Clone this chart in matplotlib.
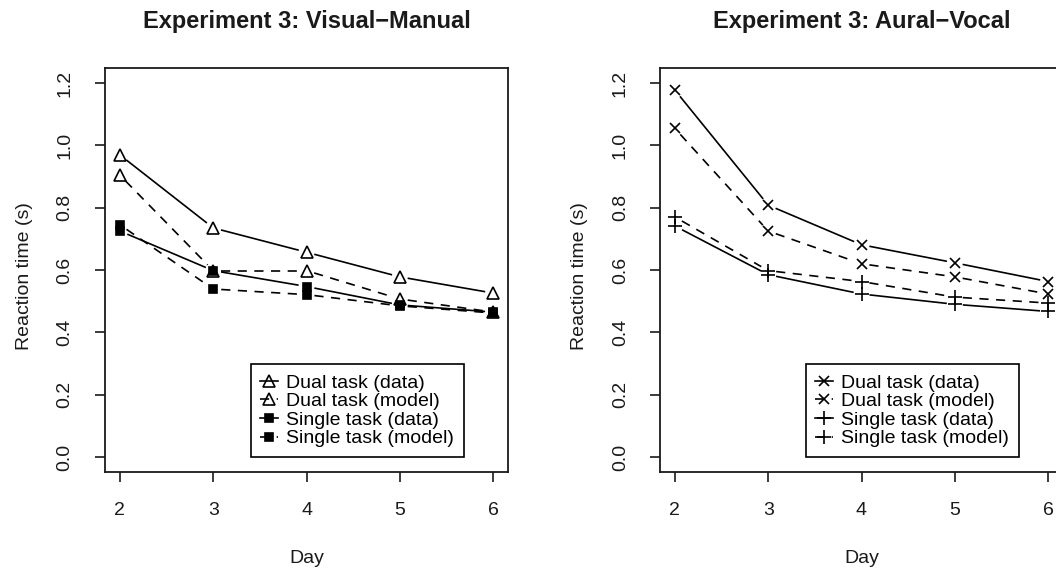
import numpy as np
import matplotlib
matplotlib.use('Agg')
import matplotlib.pyplot as plt
from matplotlib.lines import Line2D

plt.rcParams['font.family'] = ['Liberation Sans', 'DejaVu Sans']

# dados
days = [2, 3, 4, 5, 6]

vm_dual_data = [0.969, 0.735, 0.657, 0.578, 0.526]
vm_dual_model = [0.904, 0.598, 0.598, 0.507, 0.465]
vm_single_data = [0.725, 0.598, 0.547, 0.488, 0.465]
vm_single_model = [0.745, 0.539, 0.521, 0.485, 0.462]

av_dual_data = [1.177, 0.808, 0.681, 0.623, 0.563]
av_dual_model = [1.054, 0.725, 0.620, 0.578, 0.523]
av_single_data = [0.741, 0.585, 0.523, 0.490, 0.467]
av_single_model = [0.770, 0.598, 0.563, 0.513, 0.494]

labels = ['Dual task (data)', 'Dual task (model)',
          'Single task (data)', 'Single task (model)']
titles = ['Experiment 3: Visual\u2212Manual', 'Experiment 3: Aural\u2212Vocal']
yticks = [0.0, 0.2, 0.4, 0.6, 0.8, 1.0, 1.2]

W, H = 1056, 569
fig = plt.figure(figsize=(W / 100, H / 100), dpi=100)

LW = 1.2
DASH = (5.5, 4.5)
FS = 14


def linha_b(ax, x, y, dashed, gap=8):
    # estilo type="b" do R: segmentos que nao tocam os marcadores
    pts = ax.transData.transform(np.column_stack([x, y]))
    inv = ax.transData.inverted()
    for p, q in zip(pts[:-1], pts[1:]):
        d = q - p
        u = d / np.hypot(*d)
        ab = inv.transform(np.array([p + u * gap, q - u * gap]))
        ln, = ax.plot(ab[:, 0], ab[:, 1], color='k', lw=LW, solid_capstyle='butt')
        if dashed:
            ln.set_dashes(DASH)


def painel(ax, series, estilos, titulo):
    ax.set_xlim(1.84, 6.16)
    ax.set_ylim(-0.048, 1.248)
    for (vals, (mk, ms, mfc, dashed)) in zip(series, estilos):
        linha_b(ax, days, vals, dashed)
        ax.plot(days, vals, ls='none', marker=mk, ms=ms, mfc=mfc, mec='k', mew=1.2)
    ax.set_xticks(days)
    ax.set_yticks(yticks)
    ax.set_yticklabels([f'{v:.1f}' for v in yticks])
    ax.tick_params(direction='out', length=7.5, width=1.2, labelsize=FS, colors='#1a1a1a')
    ax.tick_params(axis='x', pad=14)
    ax.tick_params(axis='y', pad=15, labelrotation=90)
    for t in ax.get_yticklabels():
        t.set_va('center')
    for s in ax.spines.values():
        s.set_linewidth(1.3)
        s.set_color('#1a1a1a')
    ax.set_xlabel('Day', fontsize=FS, color='#1a1a1a', va='baseline')
    ax.xaxis.set_label_coords(0.5, -0.225)
    ax.set_ylabel('Reaction time (s)', fontsize=FS, color='#1a1a1a')
    ax.yaxis.set_label_coords(-0.179, 0.485)
    ax.text(0.5, 1.116, titulo, transform=ax.transAxes, ha='center', va='center',
            fontsize=17, fontweight='bold', color='#1a1a1a')

    handles = []
    for (mk, ms, mfc, dashed) in estilos:
        h = Line2D([0], [0], color='k', lw=LW, marker=mk, ms=ms, mfc=mfc, mec='k', mew=1.2)
        if dashed:
            h.set_dashes(DASH)
        handles.append(h)
    leg = ax.legend(handles, labels, loc='lower right', bbox_to_anchor=(0.891, 0.037),
                    fontsize=FS, frameon=True, fancybox=False, framealpha=1,
                    edgecolor='k', borderpad=0.5, labelspacing=0.05,
                    handlelength=0.9, handletextpad=0.45, borderaxespad=0)
    leg.get_frame().set_linewidth(1.2)


ax1 = fig.add_axes([105 / W, 1 - 472 / H, 403 / W, 404 / H])
ax2 = fig.add_axes([660 / W, 1 - 472 / H, 403 / W, 404 / H])

est_vm = [('^', 9, 'none', False), ('^', 9, 'none', True),
          ('s', 6, 'k', False), ('s', 6, 'k', True)]
est_av = [('x', 7.5, 'none', False), ('x', 7.5, 'none', True),
          ('+', 10, 'none', False), ('+', 10, 'none', True)]

painel(ax1, [vm_dual_data, vm_dual_model, vm_single_data, vm_single_model], est_vm, titles[0])
painel(ax2, [av_dual_data, av_dual_model, av_single_data, av_single_model], est_av, titles[1])

fig.savefig('out.png', dpi=100)
